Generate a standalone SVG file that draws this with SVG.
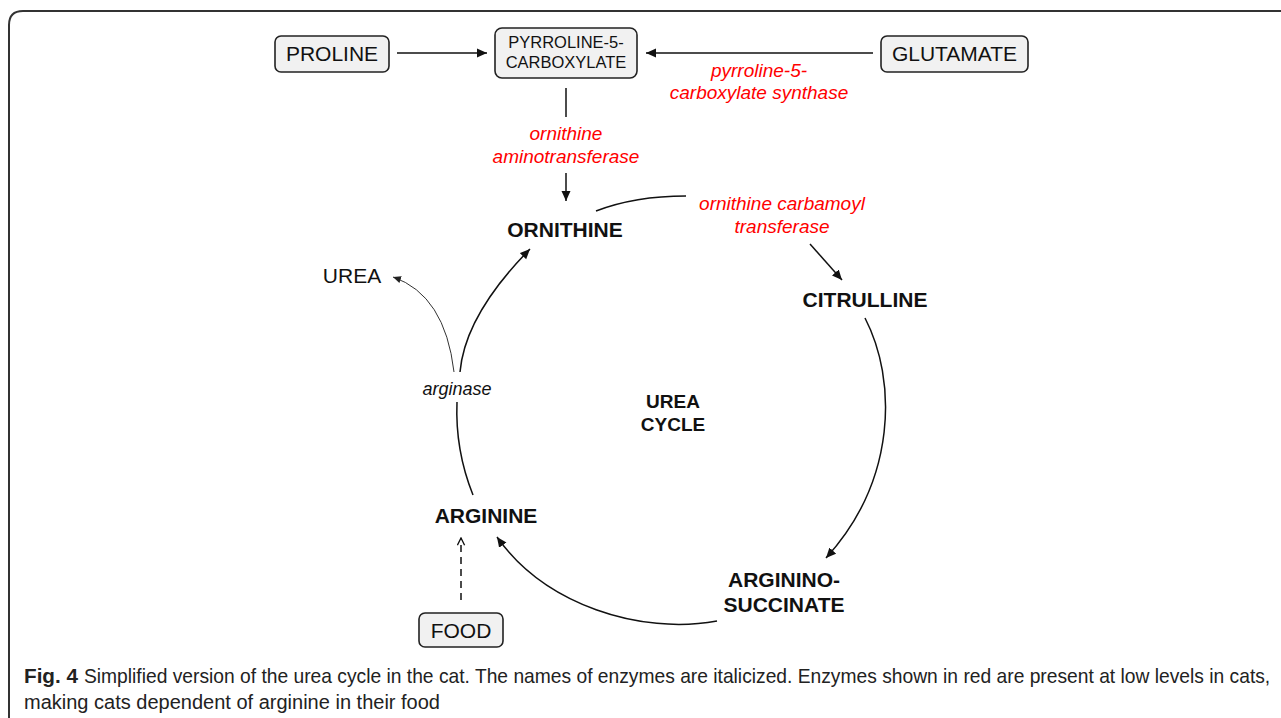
<svg xmlns="http://www.w3.org/2000/svg" width="1281" height="718" viewBox="0 0 1281 718">
<defs>
<style>
.box{fill:#f1f1f1;stroke:#222;stroke-width:1.6}
.lbl{font-family:"Liberation Sans",Arial,sans-serif;fill:#111;text-anchor:middle}
.reg{font-size:21px}
.small{font-size:16.5px}
.bold{font-size:21px;font-weight:bold}
.cyc{font-size:19px;font-weight:bold}
.enz{font-size:19px;font-style:italic;fill:#ff0000}
.enzb{font-size:18px;font-style:italic;fill:#111}
.ln{fill:none;stroke:#111;stroke-width:1.5}
.thin{fill:none;stroke:#333;stroke-width:1}
.cap{font-family:"Liberation Sans",Arial,sans-serif;font-size:20px;fill:#222}
</style>
<marker id="ah" viewBox="0 0 10 10" refX="10" refY="5" markerWidth="10" markerHeight="10" markerUnits="userSpaceOnUse" orient="auto">
<path d="M0,0.5 L10,5 L0,9.5 Z" fill="#111"/>
</marker>
<marker id="ahs" viewBox="0 0 10 10" refX="10" refY="5" markerWidth="8" markerHeight="8" markerUnits="userSpaceOnUse" orient="auto">
<path d="M0,0.5 L10,5 L0,9.5 Z" fill="#222"/>
</marker>
<marker id="open" viewBox="0 0 10 10" refX="9" refY="5" markerWidth="9" markerHeight="9" markerUnits="userSpaceOnUse" orient="auto">
<path d="M1,1 L9,5 L1,9" fill="none" stroke="#111" stroke-width="1.5"/>
</marker>
</defs>
<rect x="0" y="0" width="1281" height="718" fill="#fff"/>
<path d="M9,718 L9,25 Q9,11 23,11 L1281,11" fill="none" stroke="#333" stroke-width="2"/>

<g id="connectors">
<line class="ln" x1="397" y1="53" x2="487" y2="53" marker-end="url(#ah)"/>
<line class="ln" x1="873" y1="53" x2="646" y2="53" marker-end="url(#ah)"/>
<line class="ln" x1="566" y1="88" x2="566" y2="117"/>
<line class="ln" x1="566" y1="173" x2="566" y2="201" marker-end="url(#ah)"/>
<path class="ln" d="M596,211 Q635,196 686,196"/>
<line class="ln" x1="810" y1="244" x2="842" y2="280" marker-end="url(#ah)"/>
<path class="ln" d="M865,318 C897,380 897,480 826,558" marker-end="url(#ah)"/>
<path class="ln" d="M717,621 C640,635 545,605 497,537" marker-end="url(#ah)"/>
<path class="ln" d="M473,495 Q455,450 457,402"/>
<path class="ln" d="M460,372 Q465,315 530,249" marker-end="url(#ah)"/>
<path class="thin" d="M454,372 Q445,295 393,277" marker-end="url(#ahs)"/>
<line class="ln" x1="461" y1="600" x2="461" y2="538" stroke-dasharray="7,5" marker-end="url(#open)"/>
</g>

<g id="proline">
<rect class="box" x="275" y="36" width="114" height="36" rx="6"/>
<text class="lbl reg" x="332" y="61">PROLINE</text>
</g>
<g id="p5c">
<rect class="box" x="495" y="28" width="142" height="50" rx="7"/>
<text class="lbl small" x="566" y="48">PYRROLINE-5-</text>
<text class="lbl small" x="566" y="68">CARBOXYLATE</text>
</g>
<g id="glutamate">
<rect class="box" x="881" y="36" width="147" height="36" rx="6"/>
<text class="lbl reg" x="954.5" y="61">GLUTAMATE</text>
</g>
<g id="p5cs">
<text class="lbl enz" x="759" y="77">pyrroline-5-</text>
<text class="lbl enz" x="759" y="99">carboxylate synthase</text>
</g>
<g id="oat">
<text class="lbl enz" x="566" y="140">ornithine</text>
<text class="lbl enz" x="566" y="163">aminotransferase</text>
</g>
<g id="ornithine">
<text class="lbl bold" x="565" y="237">ORNITHINE</text>
</g>
<g id="otc">
<text class="lbl enz" x="782" y="210">ornithine carbamoyl</text>
<text class="lbl enz" x="782" y="233">transferase</text>
</g>
<g id="citrulline">
<text class="lbl bold" x="865" y="307">CITRULLINE</text>
</g>
<g id="argininosuccinate">
<text class="lbl bold" x="784" y="587">ARGININO-</text>
<text class="lbl bold" x="784" y="612">SUCCINATE</text>
</g>
<g id="arginine">
<text class="lbl bold" x="486" y="523">ARGININE</text>
</g>
<g id="arginase">
<text class="lbl enzb" x="457" y="395">arginase</text>
</g>
<g id="urea">
<text class="lbl reg" x="352" y="283">UREA</text>
</g>
<g id="ureacycle">
<text class="lbl cyc" x="673" y="408">UREA</text>
<text class="lbl cyc" x="673" y="431">CYCLE</text>
</g>
<g id="food">
<rect class="box" x="419" y="613" width="84" height="34" rx="6"/>
<text class="lbl reg" x="461" y="638">FOOD</text>
</g>

<g id="caption">
<text class="cap" x="24" y="683" font-weight="bold" textLength="54" lengthAdjust="spacingAndGlyphs">Fig. 4</text>
<g transform="translate(84,683) scale(0.9,1)">
<text class="cap" x="0" y="0" textLength="1318" lengthAdjust="spacingAndGlyphs">Simplified version of the urea cycle in the cat. The names of enzymes are italicized. Enzymes shown in red are present at low levels in cats,</text>
</g>
<text class="cap" x="24" y="709" textLength="416" lengthAdjust="spacingAndGlyphs">making cats dependent of arginine in their food</text>
</g>
</svg>
